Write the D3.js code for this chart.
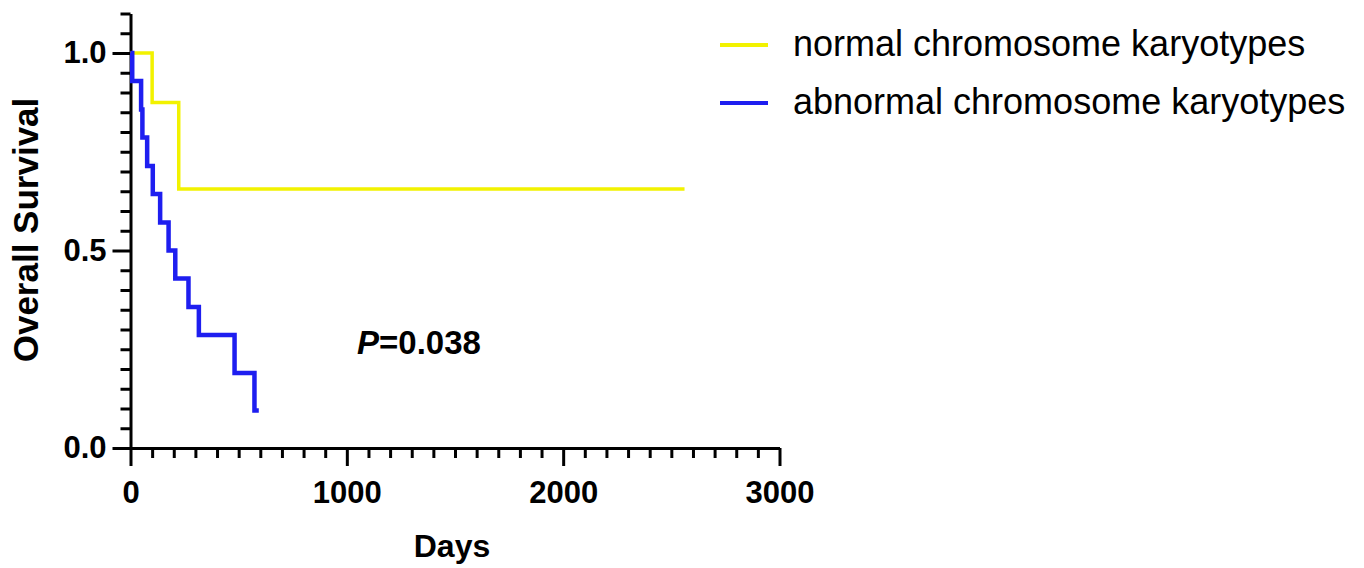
<!DOCTYPE html>
<html>
<head>
<meta charset="utf-8">
<script src="https://cdn.jsdelivr.net/npm/d3@7"></script>
<style>
  html, body { margin: 0; padding: 0; background: #ffffff; }
  svg { display: block; }
  text { font-family: "Liberation Sans", Arial, Helvetica, sans-serif; }
</style>
</head>
<body>
<svg id="chart" width="1364" height="568"></svg>
<script>
// ---- Data ----
const seriesNames = ["normal chromosome karyotypes", "abnormal chromosome karyotypes"];
const seriesColors = ["#f2f200", "#1e1ef0"];
const normalDays = [0, 100, 223, 2561];
const normalSurvival = [1.0, 0.875, 0.656, 0.656];
const abnormalDays = [0, 8, 49, 55, 77, 103, 137, 176, 207, 268, 316, 481, 573, 593];
const abnormalSurvival = [1.0, 0.929, 0.857, 0.786, 0.714, 0.643, 0.571, 0.5, 0.429, 0.357, 0.286, 0.190, 0.095, 0.095];
const xMajorTicks = [0, 1000, 2000, 3000];
const yMajorTicks = [0.0, 0.5, 1.0];
const xTickLabels = ["0", "1000", "2000", "3000"];
const yTickLabels = ["0.0", "0.5", "1.0"];
const pValueLabel = "=0.038";

// ---- Layout ----
const svg = d3.select("#chart");
const x = d3.scaleLinear().domain([0, 3000]).range([130.5, 779.5]);
const y = d3.scaleLinear().domain([0, 1.1]).range([448, 13.5]);

const xMinor = d3.range(0, 3001, 100).filter(v => !xMajorTicks.includes(v));
const yMinor = d3.range(0, 23).map(i => +(i * 0.05).toFixed(2)).filter(v => !yMajorTicks.includes(v));

const axisStyle = g => {
  g.selectAll("path.domain").attr("stroke", "#000").attr("stroke-width", 3);
  g.selectAll(".tick line").attr("stroke", "#000").attr("stroke-width", 3);
  g.selectAll(".tick text").attr("fill", "#000").attr("font-weight", "bold").attr("font-size", "31px")
    .attr("font-family", "'Liberation Sans', Arial, sans-serif");
};

// X axis minor
svg.append("g").attr("transform", `translate(0,${y(0)})`)
  .call(d3.axisBottom(x).tickValues(xMinor).tickSize(10).tickFormat(""))
  .call(g => g.select("path.domain").remove())
  .call(axisStyle);
// X axis major
svg.append("g").attr("transform", `translate(0,${y(0)})`)
  .call(d3.axisBottom(x).tickValues(xMajorTicks).tickSizeInner(18).tickSizeOuter(0).tickPadding(15)
    .tickFormat((d, i) => xTickLabels[i]))
  .call(axisStyle);

// Y axis minor
svg.append("g").attr("transform", `translate(${x(0)},0)`)
  .call(d3.axisLeft(y).tickValues(yMinor).tickSize(10).tickFormat(""))
  .call(g => g.select("path.domain").remove())
  .call(axisStyle);
// Y axis major
svg.append("g").attr("transform", `translate(${x(0)},0)`)
  .call(d3.axisLeft(y).tickValues(yMajorTicks).tickSizeInner(18).tickSizeOuter(0).tickPadding(6)
    .tickFormat((d, i) => yTickLabels[i]))
  .call(axisStyle);

// ---- Survival curves ----
const line = d3.line().x(d => x(d[0])).y(d => y(d[1])).curve(d3.curveStepAfter);
const normalPts = normalDays.map((d, i) => [d, normalSurvival[i]]);
const abnormalPts = abnormalDays.map((d, i) => [d, abnormalSurvival[i]]);

svg.append("path").datum(normalPts).attr("d", line)
  .attr("fill", "none").attr("stroke", seriesColors[0]).attr("stroke-width", 3.5);
svg.append("path").datum(abnormalPts).attr("d", line)
  .attr("fill", "none").attr("stroke", seriesColors[1]).attr("stroke-width", 4.5);

// ---- Axis titles ----
svg.append("text").attr("x", 452).attr("y", 557).attr("text-anchor", "middle")
  .attr("font-weight", "bold").attr("font-size", "32px").text("Days");
svg.append("text").attr("transform", "translate(38,230) rotate(-90)").attr("text-anchor", "middle")
  .attr("font-weight", "bold").attr("font-size", "35px").text("Overall Survival");

// ---- P value ----
const pt = svg.append("text").attr("x", 357).attr("y", 354).attr("font-weight", "bold").attr("font-size", "33px");
pt.append("tspan").attr("font-style", "italic").text("P");
pt.append("tspan").text(pValueLabel);

// ---- Legend ----
const legendY = [45, 103];
seriesNames.forEach((name, i) => {
  svg.append("line").attr("x1", 720).attr("x2", 768).attr("y1", legendY[i]).attr("y2", legendY[i])
    .attr("stroke", seriesColors[i]).attr("stroke-width", 4);
  svg.append("text").attr("x", 793).attr("y", legendY[i] + 11).attr("font-size", "36px")
    .attr("fill", "#000").text(name);
});
</script>
</body>
</html>
